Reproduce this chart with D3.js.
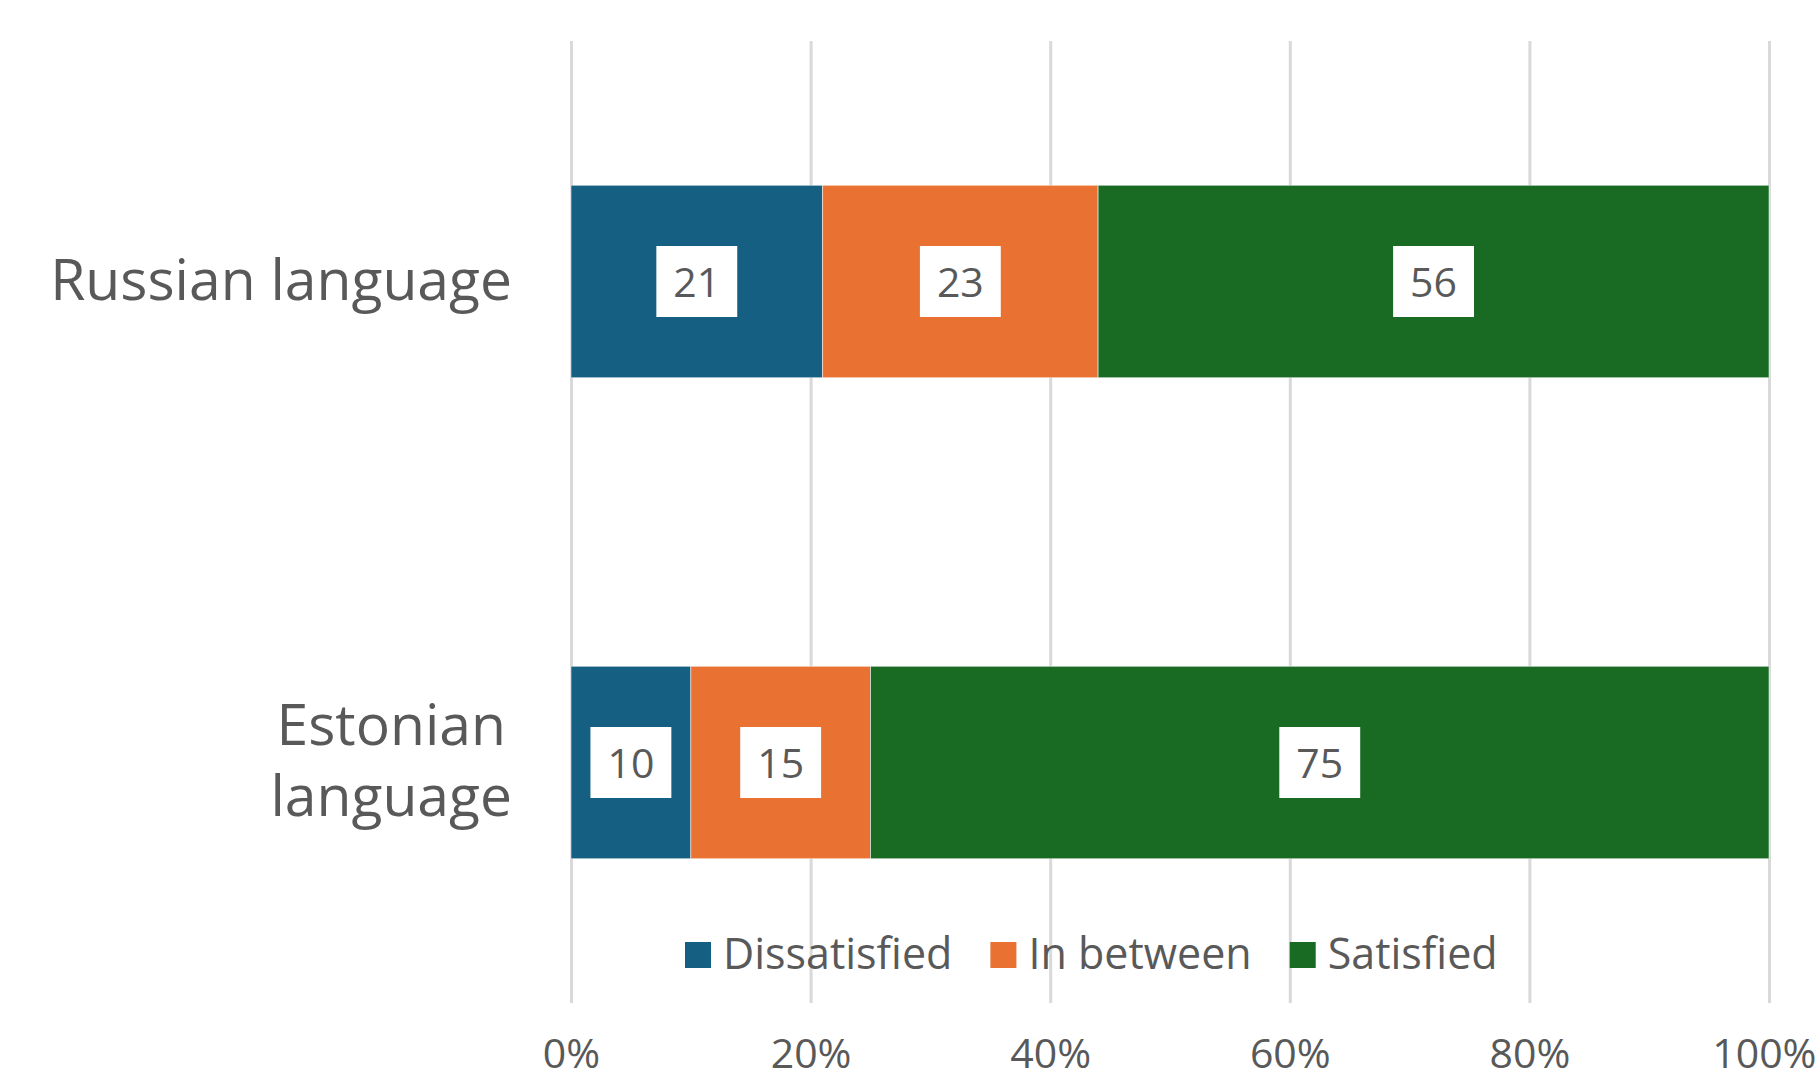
<!DOCTYPE html>
<html>
<head>
<meta charset="utf-8">
<script src="https://cdn.jsdelivr.net/npm/d3@7"></script>
<style>
  html, body { margin: 0; padding: 0; background: #ffffff; }
  svg { display: block; }
  text { font-family: "Open Sans", "Liberation Sans", sans-serif; fill: #595959; }
</style>
</head>
<body>
<svg id="chart" width="1818" height="1079"></svg>
<script>
// ---- data ----
const categories = ["Russian language", "Estonian language"];
const categoryLines = [["Russian language"], ["Estonian", "language"]];
const seriesNames = ["Dissatisfied", "In between", "Satisfied"];
const dissatisfied = [21, 10];
const inBetween = [23, 15];
const satisfied = [56, 75];
const xTicks = [0, 20, 40, 60, 80, 100];
const colors = ["#156082", "#E97132", "#196B24"];

// ---- layout ----
const W = 1818, H = 1079;
const plot = { left: 571, right: 1769, top: 41, bottom: 1003 };
const svg = d3.select("#chart");

const rows = categories.map((c, i) => ({
  category: c,
  "Dissatisfied": dissatisfied[i],
  "In between": inBetween[i],
  "Satisfied": satisfied[i]
}));
const stacked = d3.stack().keys(seriesNames)(rows);

const x = d3.scaleLinear().domain([0, 100]).range([plot.left, plot.right]);
const y = d3.scaleBand().domain(categories).range([plot.top, plot.bottom])
  .paddingInner(0.6).paddingOuter(0.3);
const color = d3.scaleOrdinal().domain(seriesNames).range(colors);

// ---- gridlines + x axis ----
const xAxis = d3.axisBottom(x)
  .tickValues(xTicks)
  .tickFormat(d => d + "%")
  .tickSizeInner(-(plot.bottom - plot.top))
  .tickSizeOuter(0)
  .tickPadding(36);
const gx = svg.append("g")
  .attr("transform", `translate(0,${plot.bottom})`)
  .call(xAxis);
gx.select(".domain").remove();
gx.selectAll(".tick line").attr("stroke", "#D9D9D9").attr("stroke-width", 3);
gx.selectAll(".tick text")
  .attr("font-size", 41)
  .attr("fill", "#595959")
  .style("font-family", '"Open Sans", sans-serif');
// keep the last tick label inside the picture
gx.selectAll(".tick").each(function(d) {
  const t = d3.select(this).select("text");
  const w = t.node().getComputedTextLength();
  const over = x(d) + w / 2 - (W - 2);
  if (over > 0) t.attr("x", -over);
});

// ---- bars ----
const layers = svg.append("g").selectAll("g")
  .data(stacked).join("g")
  .attr("fill", d => color(d.key));
layers.selectAll("rect")
  .data(d => d.map(p => ({ p, key: d.key })))
  .join("rect")
  .attr("x", d => x(d.p[0]))
  .attr("width", d => x(d.p[1]) - x(d.p[0]))
  .attr("y", d => y(d.p.data.category))
  .attr("height", y.bandwidth())
  .attr("stroke", "#ffffff")
  .attr("stroke-opacity", 0.5)
  .attr("stroke-width", 1);

// ---- data labels with white boxes ----
const labelG = svg.append("g");
stacked.forEach(layer => {
  layer.forEach(p => {
    const v = p[1] - p[0];
    const cx = (x(p[0]) + x(p[1])) / 2;
    const cy = y(p.data.category) + y.bandwidth() / 2;
    const g = labelG.append("g");
    const rect = g.append("rect").attr("fill", "#ffffff");
    const t = g.append("text")
      .attr("x", cx).attr("y", cy + 15)
      .attr("text-anchor", "middle")
      .attr("font-size", 41)
      .text(v);
    const tw = t.node().getComputedTextLength();
    const bw = tw + 34, bh = 71;
    rect.attr("x", cx - bw / 2).attr("y", cy - bh / 2).attr("width", bw).attr("height", bh);
  });
});

// ---- category labels ----
const catG = svg.append("g");
const labelRight = 512, lineH = 71, catFont = 57;
categories.forEach((c, i) => {
  const lines = categoryLines[i];
  const cy = y(c) + y.bandwidth() / 2;
  const g = catG.append("g");
  const texts = lines.map((ln, j) => g.append("text")
    .attr("font-size", catFont)
    .attr("y", cy + 18 - (lines.length - 1) * lineH / 2 + j * lineH)
    .attr("text-anchor", "middle")
    .text(ln));
  const maxW = d3.max(texts, t => t.node().getComputedTextLength());
  texts.forEach(t => t.attr("x", labelRight - maxW / 2));
});

// ---- legend ----
const leg = svg.append("g");
let lx = 685;
const legCy = 955, sq = 26;
seriesNames.forEach((s, i) => {
  leg.append("rect")
    .attr("x", lx).attr("y", legCy - sq / 2)
    .attr("width", sq).attr("height", sq)
    .attr("fill", color(s));
  const t = leg.append("text")
    .attr("x", lx + sq + 12).attr("y", legCy + 14)
    .attr("font-size", 43)
    .text(s);
  lx += sq + 12 + t.node().getComputedTextLength() + 38;
});
</script>
</body>
</html>
